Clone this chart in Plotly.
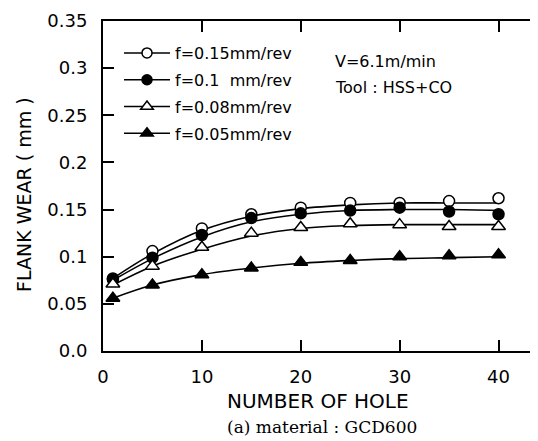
import plotly.graph_objects as go

holes = [1, 5, 10, 15, 20, 25, 30, 35, 40]

labels = ["f=0.15mm/rev", "f=0.1  mm/rev", "f=0.08mm/rev", "f=0.05mm/rev"]

wear_015 = [0.077, 0.106, 0.130, 0.145, 0.152, 0.157, 0.157, 0.159, 0.162]
wear_010 = [0.076, 0.099, 0.123, 0.141, 0.146, 0.149, 0.152, 0.148, 0.145]
wear_008 = [0.071, 0.090, 0.110, 0.125, 0.131, 0.135, 0.134, 0.132, 0.132]
wear_005 = [0.056, 0.070, 0.081, 0.088, 0.094, 0.096, 0.100, 0.101, 0.102]

fit_015 = [0.077, 0.103, 0.128, 0.143, 0.151, 0.155, 0.157, 0.157, 0.157]
fit_010 = [0.075, 0.098, 0.121, 0.137, 0.145, 0.149, 0.150, 0.150, 0.149]
fit_008 = [0.070, 0.090, 0.108, 0.122, 0.130, 0.133, 0.134, 0.134, 0.134]
fit_005 = [0.056, 0.070, 0.081, 0.088, 0.093, 0.096, 0.098, 0.099, 0.100]

y_ticks = [0, 0.05, 0.1, 0.15, 0.2, 0.25, 0.3, 0.35]
y_ticktext = ["0.0", "0.05", "0.1", "0.15", "0.2", "0.25", "0.3", "0.35"]
x_ticks = [0, 10, 20, 30, 40]

series = [
    (labels[0], wear_015, fit_015, "circle", "white"),
    (labels[1], wear_010, fit_010, "circle", "black"),
    (labels[2], wear_008, fit_008, "triangle-up", "white"),
    (labels[3], wear_005, fit_005, "triangle-up", "black"),
]

FONT = "DejaVu Sans, Arial, sans-serif"
SERIF = "DejaVu Serif, Liberation Serif, serif"

W, H = 538, 441
ML, MR, MT, MB = 95, 1, 13, 98
PW, PH = W - ML - MR, H - MT - MB


def px(x):
    return (x - ML) / PW


def py(y):
    return 1 - (y - MT) / PH


fig = go.Figure()

for i, (name, pts, fit, sym, fill) in enumerate(series):
    msize = 11 if sym == "circle" else 12
    fig.add_trace(go.Scatter(
        x=holes, y=fit, mode="lines", line=dict(color="black", width=1.6, shape="spline"),
        showlegend=False, hoverinfo="skip"))
    fig.add_trace(go.Scatter(
        x=holes, y=pts, mode="markers", showlegend=False,
        marker=dict(symbol=sym, size=msize, color=fill,
                    line=dict(color="black", width=1.5))))
    fig.add_trace(go.Scatter(
        x=[None], y=[None], mode="lines+markers", name=name, legendgroup=f"g{i}",
        line=dict(color="black", width=1.5),
        marker=dict(symbol=sym, size=msize - 1, color=fill,
                    line=dict(color="black", width=1.5))))

axis_common = dict(showline=True, linecolor="black", linewidth=2, mirror="allticks",
                   ticks="inside", tickcolor="black", tickwidth=1.5, showgrid=False,
                   zeroline=False, tickfont=dict(family=FONT, size=18, color="black"))

fig.update_xaxes(range=[0, 44.7], tickvals=x_ticks, ticklen=11, ticklabelstandoff=8, **axis_common)
fig.update_yaxes(range=[0, 0.35], tickvals=y_ticks, ticktext=y_ticktext, ticklen=11,
                 ticklabelstandoff=10, **axis_common)

anns = [
    dict(text="V=6.1m/min", x=px(325), y=py(53), xanchor="left", yanchor="middle",
         font=dict(family=FONT, size=16, color="black")),
    dict(text="Tool : HSS+CO", x=px(325), y=py(80), xanchor="left", yanchor="middle",
         font=dict(family=FONT, size=16, color="black")),
    dict(text="NUMBER OF HOLE", x=px(310), y=py(393), xanchor="center", yanchor="middle",
         font=dict(family=FONT, size=20, color="black")),
    dict(text="(a) material : GCD600", x=px(314), y=py(419), xanchor="center", yanchor="middle",
         font=dict(family=SERIF, size=17, color="black")),
    dict(text="FLANK WEAR ( mm )", x=px(16), y=py(187), xanchor="center", yanchor="middle",
         textangle=-90, font=dict(family=FONT, size=19, color="black")),
]
for a in anns:
    a.update(xref="paper", yref="paper", showarrow=False)

fig.update_layout(
    width=W, height=H,
    margin=dict(l=ML, r=MR, t=MT, b=MB, autoexpand=False),
    paper_bgcolor="white", plot_bgcolor="white",
    font=dict(family=FONT, color="black"),
    legend=dict(x=px(111), y=py(28), xanchor="left", yanchor="top",
                font=dict(family=FONT, size=16, color="black"),
                bgcolor="rgba(0,0,0,0)", itemwidth=46, tracegroupgap=3),
    annotations=anns,
)

fig.write_html("out.html")
